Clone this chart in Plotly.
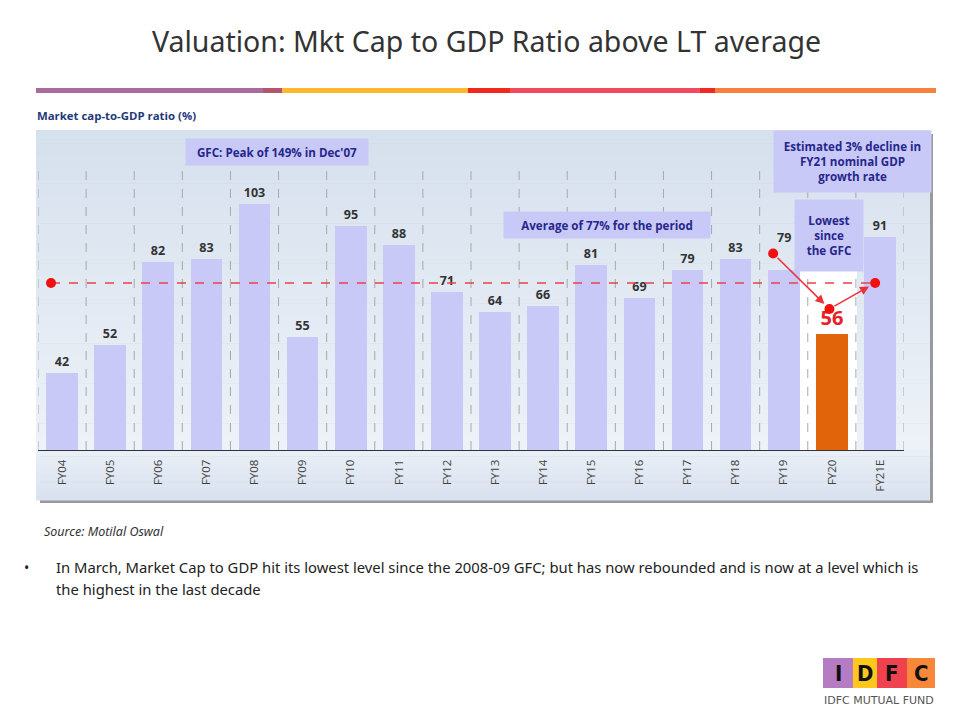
import numpy as np
import plotly.graph_objects as go

# ---------------- data ----------------
categories = ["FY04", "FY05", "FY06", "FY07", "FY08", "FY09", "FY10", "FY11", "FY12",
              "FY13", "FY14", "FY15", "FY16", "FY17", "FY18", "FY19", "FY20", "FY21E"]
values = [42, 52, 82, 83, 103, 55, 95, 88, 71, 64, 66, 81, 69, 79, 83, 79, 56, 91]
highlight = "FY20"
raised_label = "FY19"                        # label lifted above the red marker
avg_value = float(np.mean(values))          # dashed long-term average line
avg_start = -0.23                           # start of dashed line (category units)
arrow_x = [14.78, 15.95, 16.9]              # path FY19 -> FY20 -> FY21E
arrow_y = [85.0, 65.0, avg_value]

# the page body has an 8px margin: the figure is made smaller and positioned
# so that screen pixel coordinates map directly
OFF = 8
W, H = 963 - OFF, 712 - OFF
def px(p):  # screen pixel -> paper x
    return (p - OFF) / W
def py(p):  # screen pixel -> paper y
    return 1 - (p - OFF) / H

# axis calibration (screen pixel geometry)
Y_BASE, Y_TOP = 450, 130
X_LEFT, X_RIGHT = 38, 904
PX_PER_UNIT = 2.77
ZERO_PX = 489
y_lo = (ZERO_PX - Y_BASE) / PX_PER_UNIT
y_hi = (ZERO_PX - Y_TOP) / PX_PER_UNIT

LAV = "#C9C9F8"
ORANGE = "#E2640A"
RED = "#E8202A"
NAVY = "#26268C"
FONT = "Open Sans"

xs = list(range(len(categories)))
bar_colors = [ORANGE if c == highlight else LAV for c in categories]
txt_colors = [RED if c == highlight else "#333333" for c in categories]
txt_sizes = [20 if c == highlight else 12.5 for c in categories]
bar_text = ["" if c == raised_label else "<b>%d</b>" % v for c, v in zip(categories, values)]

fig = go.Figure()

fig.add_trace(go.Bar(
    x=xs, y=values, width=0.66,
    marker=dict(color=bar_colors, line=dict(width=0)),
    text=bar_text, texttemplate="%{text}", textposition="outside",
    textfont=dict(color=txt_colors, size=txt_sizes, family=FONT),
    outsidetextfont=dict(color=txt_colors, size=txt_sizes, family=FONT),
    cliponaxis=False, hoverinfo="skip", showlegend=False,
))

# dashed average line
fig.add_trace(go.Scatter(
    x=[avg_start, arrow_x[2]], y=[avg_value, avg_value], mode="lines",
    line=dict(color="#E8414B", width=1.5, dash="dash"),
    hoverinfo="skip", showlegend=False, cliponaxis=False,
))
# dots
fig.add_trace(go.Scatter(
    x=[avg_start] + arrow_x, y=[avg_value] + arrow_y, mode="markers",
    marker=dict(color="#F01010", size=10),
    hoverinfo="skip", showlegend=False, cliponaxis=False,
))

shapes = []
# top colour strip
strip = [(36, 263, "#A96A9C"), (263, 282, "#B0566F"), (282, 468, "#FDB92D"),
         (468, 510, "#F0281E"), (510, 700, "#F24A5C"), (700, 715, "#EE2A22"),
         (715, 936, "#F7813C")]
for x0, x1, col in strip:
    shapes.append(dict(type="rect", xref="paper", yref="paper", x0=px(x0), x1=px(x1),
                       y0=py(93), y1=py(88), fillcolor=col, line=dict(width=0), layer="below"))

# panel shadow
shapes.append(dict(type="rect", xref="paper", yref="paper", x0=px(40), x1=px(933),
                   y0=py(503), y1=py(134), fillcolor="#9A9A9A", line=dict(width=0), layer="below"))
# panel gradient (bands)
top_c = np.array([0xD6, 0xE1, 0xEE])
mid_c = np.array([0xED, 0xF2, 0xF8])
n = 24
for i in range(n):
    y0 = 130 + (Y_BASE - 130) * i / n
    y1 = 130 + (Y_BASE - 130) * (i + 1) / n
    c = top_c + (mid_c - top_c) * (i / (n - 1))
    shapes.append(dict(type="rect", xref="paper", yref="paper", x0=px(36), x1=px(930),
                       y0=py(y1 + 0.5), y1=py(y0), fillcolor="rgb(%d,%d,%d)" % tuple(c),
                       line=dict(width=0), layer="below"))
bot_a = np.array([0xE9, 0xEF, 0xF7])
bot_b = np.array([0xD9, 0xE3, 0xEF])
m = 8
for i in range(m):
    y0 = Y_BASE + (500 - Y_BASE) * i / m
    y1 = Y_BASE + (500 - Y_BASE) * (i + 1) / m
    c = bot_a + (bot_b - bot_a) * (i / (m - 1))
    shapes.append(dict(type="rect", xref="paper", yref="paper", x0=px(36), x1=px(930),
                       y0=py(y1 + 0.5), y1=py(y0), fillcolor="rgb(%d,%d,%d)" % tuple(c),
                       line=dict(width=0), layer="below"))

# white area behind highlighted bar
shapes.append(dict(type="rect", xref="paper", yref="paper", x0=px(800), x1=px(857),
                   y0=py(Y_BASE), y1=py(271), fillcolor="#FFFFFF", line=dict(width=0), layer="below"))

# vertical dashed separators
for i in range(len(categories) + 1):
    shapes.append(dict(type="line", xref="x", yref="y", x0=i - 0.5, x1=i - 0.5,
                       y0=y_lo, y1=115, line=dict(color="#A8A8A8", width=1, dash="dash"),
                       layer="below"))

# logo boxes
logo = [(823, 853, "#B57CC3", "I"), (853, 877, "#FFC61E", "D"),
        (877, 907, "#F0414E", "F"), (907, 935, "#F7883A", "C")]
for x0, x1, col, _ in logo:
    shapes.append(dict(type="rect", xref="paper", yref="paper", x0=px(x0), x1=px(x1),
                       y0=py(688), y1=py(658), fillcolor=col, line=dict(width=0)))

annotations = []
# title
annotations.append(dict(text="Valuation: Mkt Cap to GDP Ratio above LT average",
                        xref="paper", yref="paper", x=px(486), y=py(41), xanchor="center",
                        yanchor="middle", showarrow=False,
                        font=dict(family="Noto Sans", size=28.5, color="#333333")))
# chart subtitle
annotations.append(dict(text="<b>Market cap-to-GDP ratio (%)</b>", xref="paper", yref="paper",
                        x=px(35), y=py(115), xanchor="left", yanchor="middle", showarrow=False,
                        font=dict(family=FONT, size=11.4, color="#1F3A7A")))

def box(text, x0, x1, y0, y1):
    annotations.append(dict(text=text, xref="paper", yref="paper",
                            x=px((x0 + x1) / 2), y=py((y0 + y1) / 2),
                            xanchor="center", yanchor="middle", showarrow=False,
                            width=x1 - x0, height=y1 - y0, bgcolor=LAV, borderpad=0,
                            align="center", valign="middle",
                            font=dict(family=FONT, size=11.6, color=NAVY)))

box("<b>GFC: Peak of 149% in Dec'07</b>", 186, 368, 139, 165)
box("<b>Average of 77% for the period</b>", 504, 710, 212, 238)
box("<b>Estimated 3% decline in<br>FY21 nominal GDP<br>growth rate</b>", 774, 931, 131, 192)
box("<b>Lowest<br>since<br>the GFC</b>", 795, 863, 200, 271)

# lifted FY19 label
ri = categories.index(raised_label)
annotations.append(dict(text="<b>%d</b>" % values[ri], x=xs[ri], y=values[ri], xref="x", yref="y",
                        yanchor="bottom", yshift=22, showarrow=False,
                        font=dict(family=FONT, size=12.5, color="#333333")))

# arrows
for (xa, ya), (xb, yb) in zip(zip(arrow_x[:-1], arrow_y[:-1]), zip(arrow_x[1:], arrow_y[1:])):
    annotations.append(dict(x=xb, y=yb, ax=xa, ay=ya, xref="x", yref="y", axref="x", ayref="y",
                            text="", showarrow=True, arrowhead=2, arrowsize=1.2, arrowwidth=1.5,
                            arrowcolor="#EE3038", standoff=7, startstandoff=4))

# source
annotations.append(dict(text="<i>Source: Motilal Oswal</i>", xref="paper", yref="paper",
                        x=px(42), y=py(531), xanchor="left", yanchor="middle", showarrow=False,
                        font=dict(family="Noto Sans", size=12.5, color="#333333")))
# bullet text
BODY = 14.8
annotations.append(dict(text="•", xref="paper", yref="paper", x=px(22), y=py(567),
                        xanchor="left", yanchor="middle", showarrow=False,
                        font=dict(family="Noto Sans", size=14, color="#222222")))
annotations.append(dict(text="In March, Market Cap to GDP hit its lowest level since the 2008-09 GFC; "
                             "but has now rebounded and is now at a level which is",
                        xref="paper", yref="paper", x=px(54), y=py(567), xanchor="left",
                        yanchor="middle", showarrow=False,
                        font=dict(family="Noto Sans", size=BODY, color="#222222")))
annotations.append(dict(text="the highest in the last decade",
                        xref="paper", yref="paper", x=px(54), y=py(589), xanchor="left",
                        yanchor="middle", showarrow=False,
                        font=dict(family="Noto Sans", size=BODY, color="#222222")))

# logo letters
for x0, x1, _, letter in logo:
    annotations.append(dict(text="<b>%s</b>" % letter, xref="paper", yref="paper",
                            x=px((x0 + x1) / 2), y=py(673), xanchor="center", yanchor="middle",
                            showarrow=False,
                            font=dict(family="DejaVu Sans Condensed, DejaVu Sans", size=22,
                                      color="#111111")))
annotations.append(dict(text="IDFC MUTUAL FUND", xref="paper", yref="paper", x=px(879),
                        y=py(700), xanchor="center", yanchor="middle", showarrow=False,
                        font=dict(family="DejaVu Sans", size=11, color="#555555")))

fig.update_layout(
    width=W, height=H, autosize=False,
    margin=dict(l=0, r=0, t=0, b=0),
    paper_bgcolor="white", plot_bgcolor="rgba(0,0,0,0)",
    showlegend=False,
    xaxis=dict(domain=[px(X_LEFT), px(X_RIGHT)], range=[-0.5, 17.5], tickmode="array",
               tickvals=xs, ticktext=categories, tickangle=-90,
               tickfont=dict(family=FONT, size=11.5, color="#404040"),
               showgrid=False, zeroline=False, showline=True, linecolor="#333333",
               linewidth=1, ticks="outside", ticklen=4, tickcolor="rgba(0,0,0,0)",
               fixedrange=True),
    yaxis=dict(domain=[py(Y_BASE), py(Y_TOP)], range=[y_lo, y_hi], visible=False,
               fixedrange=True),
    shapes=shapes, annotations=annotations,
    bargap=0,
)

fig.write_html("out.html")
